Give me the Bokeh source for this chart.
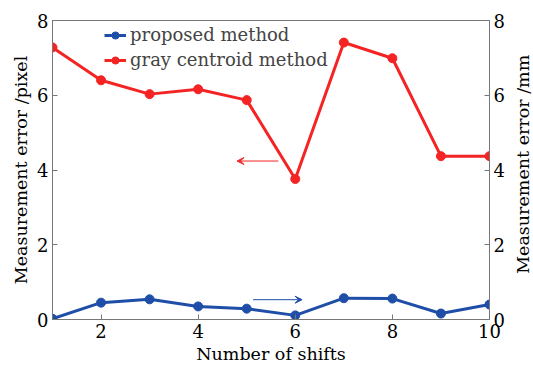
import math
from bokeh.plotting import figure
from bokeh.layouts import row
from bokeh.models import LinearAxis, Range1d, Arrow, VeeHead, Legend, LegendItem, FixedTicker
from bokeh.embed import file_html
from bokeh.resources import INLINE

shifts = [1, 2, 3, 4, 5, 6, 7, 8, 9, 10]
proposed = [0.02, 0.45, 0.54, 0.35, 0.29, 0.11, 0.57, 0.56, 0.16, 0.40]
gray_centroid = [7.28, 6.40, 6.03, 6.16, 5.87, 3.76, 7.41, 6.99, 4.37, 4.37]
x_ticks = [2, 4, 6, 8, 10]
y_ticks = [0, 2, 4, 6, 8]
right_label = "Measurement error /mm"
# annotation arrows (data coords): start x, end x, y
red_arrow = (5.65, 4.8, 4.24)
blue_arrow = (5.13, 6.14, 0.53)

RED = "#f42424"
BLUE = "#1f4ea8"
FONT = "DejaVu Serif"

p = figure(width=512, height=366, output_backend="svg", toolbar_location=None,
           x_range=Range1d(1, 10), y_range=Range1d(0, 8),
           min_border_left=52, min_border_right=23, min_border_top=20, min_border_bottom=46)
p.extra_y_ranges = {"mm": Range1d(0, 8)}
p.outline_line_color = "#777777"
p.grid.visible = False
p.background_fill_color = "white"

p.xaxis[0].ticker = FixedTicker(ticks=x_ticks)
p.yaxis[0].ticker = FixedTicker(ticks=y_ticks)
p.xaxis.axis_label = "Number of shifts"
p.yaxis.axis_label = "Measurement error /pixel"

right = LinearAxis(y_range_name="mm", ticker=FixedTicker(ticks=y_ticks))
p.add_layout(right, "right")

for ax in p.axis:
    ax.axis_line_color = "#777777"
    ax.major_tick_line_color = "#777777"
    ax.major_tick_in = 5
    ax.major_tick_out = 0
    ax.minor_tick_line_color = None
    ax.major_label_text_font = FONT
    ax.major_label_text_font_size = "18px"
    ax.major_label_text_color = "black"
    ax.axis_label_text_font = FONT
    ax.axis_label_text_font_size = "17.5px"
    ax.axis_label_text_font_style = "normal"
    ax.axis_label_text_color = "black"
    ax.major_label_standoff = 4
    ax.axis_label_standoff = 3

r1l = p.line(shifts, proposed, color=BLUE, line_width=3)
r1c = p.scatter(shifts, proposed, color=BLUE, size=9)
r2l = p.line(shifts, gray_centroid, color=RED, line_width=3)
r2c = p.scatter(shifts, gray_centroid, color=RED, size=9)

p.add_layout(Arrow(end=VeeHead(size=7, line_color=RED, fill_color=RED, line_width=1),
                   x_start=red_arrow[0], x_end=red_arrow[1], y_start=red_arrow[2], y_end=red_arrow[2],
                   line_color=RED, line_width=1))
p.add_layout(Arrow(end=VeeHead(size=7, line_color=BLUE, fill_color=BLUE, line_width=1),
                   x_start=blue_arrow[0], x_end=blue_arrow[1], y_start=blue_arrow[2], y_end=blue_arrow[2],
                   line_color=BLUE, line_width=1))

legend = Legend(items=[LegendItem(label="proposed method", renderers=[r1l, r1c]),
                       LegendItem(label="gray centroid method", renderers=[r2l, r2c])],
                border_line_color=None, background_fill_alpha=0,
                label_text_font=FONT, label_text_font_size="18px",
                glyph_width=22, glyph_height=18, spacing=4, padding=2,
                label_standoff=4, margin=0)
p.add_layout(legend)
legend.location = (52, 249)

# narrow side figure carrying the right-hand axis title (reads bottom to top)
side = figure(width=21, height=366, output_backend="svg", toolbar_location=None,
              x_range=Range1d(-1, 1), y_range=Range1d(0, 366),
              min_border=0, outline_line_color=None)
side.axis.visible = False
side.grid.visible = False
side.text(x=[0], y=[190], text=[right_label], angle=math.pi / 2,
          text_align="center", text_baseline="middle",
          text_font={"value": FONT}, text_font_size={"value": "17.5px"}, text_color="black")

layout = row(p, side, spacing=0)
open("out.html", "w").write(file_html(layout, INLINE))
